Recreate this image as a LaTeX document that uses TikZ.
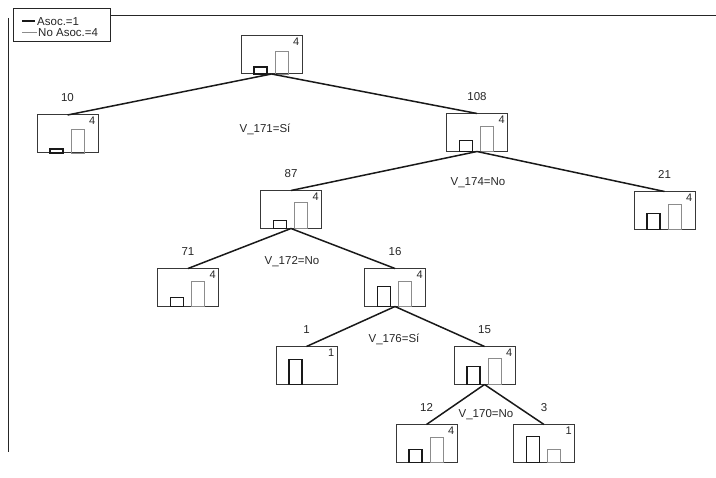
\documentclass[tikz,border=0pt]{standalone}
\usepackage{fontspec}
\setmainfont{Liberation Sans}
\newcommand{\tnode}[7]{%
  \node[nbox] (#1) at (#2,#3) {};
  \node[cls] (#1c) at ([xshift=-1.5pt,yshift=-1pt]#1.north east) {#5};
  \ifnum#6>0 \draw[darkbar] ([xshift=13pt]#1.south west) rectangle ++(13,-#6);\fi
  \ifnum#7>0 \draw[lightbar] ([xshift=34pt]#1.south west) rectangle ++(13,-#7);\fi
  \node[cnt] (#1n) at ([yshift=17pt]#1.north) {#4};
}
\begin{document}
\begin{tikzpicture}[x=1pt,y=-1pt,
  nbox/.style={draw=black!78, line width=1pt, minimum width=61pt, minimum height=38pt, inner sep=0pt, outer sep=0pt},
  edge/.style={draw=black!90, line width=1.5pt},
  darkbar/.style={draw=black!90, line width=1.4pt},
  lightbar/.style={draw=black!45, line width=0.9pt},
  cnt/.style={font=\fontsize{11.5}{13}\selectfont, text=black!85, inner sep=1pt},
  cls/.style={font=\fontsize{11}{12}\selectfont, anchor=north east, inner sep=1pt, text=black!85},
  split/.style={font=\fontsize{11.5}{13}\selectfont, text=black!85, inner sep=1pt},
  legtext/.style={font=\fontsize{11.5}{12}\selectfont, anchor=west, inner sep=0pt, text=black!85},
  frame/.style={draw=black!85, line width=1pt}]
\useasboundingbox (0,0) rectangle (716,478);
% frame and legend
\node[draw=black!85, line width=1pt, minimum width=97pt, minimum height=33pt, inner sep=0pt, outer sep=0pt, fill=white] (legend) at (61.5,25.5) {};
\draw[frame] (legend.east |- 0,16) -- (716,16);
\coordinate (ftop) at (8,18);
\coordinate (fbot) at (8,452);
\draw[frame] (ftop) -- (fbot);
\coordinate (la) at (22,21);
\coordinate (lb) at (35,21);
\coordinate (lc) at (22,32);
\coordinate (ld) at (37,32);
\draw[darkbar] (la) -- (lb);
\draw[lightbar] (lc) -- (ld);
\node[legtext] (lt1) at (37,21.5) {Asoc.=1};
\node[legtext] (lt2) at (38,32.5) {No Asoc.=4};
% tree nodes: name, cx, cy, count, class, dark h, light h
\tnode{root}{271.5}{55}{}{4}{7}{23}
\tnode{n10}{67.5}{134}{10}{4}{4}{24}
\tnode{n108}{477}{132.5}{108}{4}{11}{25}
\tnode{n87}{291}{209.5}{87}{4}{8}{26}
\tnode{n21}{664.5}{210.5}{21}{4}{16}{25}
\tnode{n71}{188}{287.5}{71}{4}{9}{25}
\tnode{n16}{395}{287.5}{16}{4}{20}{25}
\tnode{n1}{306.5}{365.5}{1}{1}{25}{0}
\tnode{n15}{484.5}{365.5}{15}{4}{18}{26}
\tnode{n12}{426.5}{443.5}{12}{4}{13}{25}
\tnode{n3}{544}{443.5}{3}{1}{26}{13}
% edges
\draw[edge] (root.south) -- (n10.north);
\draw[edge] (root.south) -- (n108.north);
\draw[edge] (n108.south) -- (n87.north);
\draw[edge] (n108.south) -- (n21.north);
\draw[edge] (n87.south) -- (n71.north);
\draw[edge] (n87.south) -- (n16.north);
\draw[edge] (n16.south) -- (n1.north);
\draw[edge] (n16.south) -- (n15.north);
\draw[edge] (n15.south) -- (n12.north);
\draw[edge] (n15.south) -- (n3.north);
% split labels
\node[split] (s1) at (265,129) {V\_171=Sí};
\node[split] (s2) at (478,183) {V\_174=No};
\node[split] (s3) at (292,262) {V\_172=No};
\node[split] (s4) at (394,339) {V\_176=Sí};
\node[split] (s5) at (486,415) {V\_170=No};
\end{tikzpicture}
\end{document}
